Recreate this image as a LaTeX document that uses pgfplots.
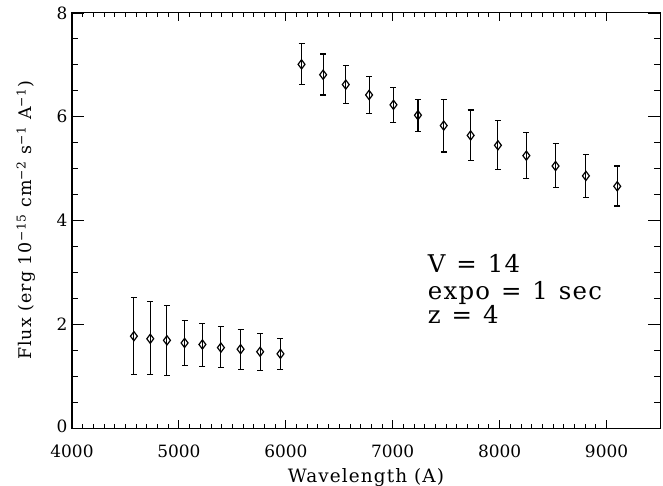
\documentclass[border=0pt]{standalone}
\usepackage{fontspec}
\setmainfont{DejaVu Serif}
\newfontfamily\labfont[LetterSpace=6]{DejaVu Serif}
\newfontfamily\annfont[LetterSpace=5]{DejaVu Serif}
\usepackage{pgfplots}
\pgfplotsset{compat=1.18}
\usepackage{pgfplotstable}

\pgfplotstableread{
x y ep em
4579 1.77 0.75 0.73
4732 1.72 0.71 0.69
4888 1.69 0.67 0.68
5053 1.64 0.44 0.44
5220 1.61 0.41 0.43
5393 1.55 0.40 0.39
5577 1.52 0.38 0.40
5760 1.47 0.36 0.36
5950 1.43 0.29 0.30
}\blue

\pgfplotstableread{
x y ep em
6147 7.01 0.41 0.39
6349 6.81 0.40 0.39
6561 6.62 0.37 0.37
6779 6.42 0.36 0.35
7007 6.23 0.33 0.34
7236 6.03 0.31 0.32
7477 5.83 0.51 0.51
7729 5.64 0.49 0.48
7984 5.45 0.47 0.47
8250 5.25 0.45 0.44
8523 5.05 0.43 0.41
8807 4.86 0.42 0.41
9100 4.66 0.39 0.38
}\red

\begin{document}
\begin{tikzpicture}
\useasboundingbox (-72bp,-58bp) rectangle (591bp,428bp);
\pgfplotsset{
  common/.style={
    scale only axis, width=588bp, height=415bp,
    xmin=4000, xmax=9500, ymin=0, ymax=8,
    axis line style={line width=1bp},
    tick style={line width=0.9bp, black},
    tick align=inside,
    /pgf/number format/assume math mode=true,
    /pgf/number format/set thousands separator={},
    ticklabel style={font=\fontsize{17}{19}\selectfont},
  },
  mystyle/.style={black, only marks, mark=diamond, mark size=4.6bp,
    mark options={line width=1.2bp, fill=white},
    error bars/.cd, y dir=both, y explicit,
    error bar style={line width=1.1bp, black},
    error mark options={rotate=90, mark size=3bp, line width=1.1bp}},
}
% axis with y ticks
\begin{axis}[common,
  xtick=\empty,
  ytick={0,2,4,6,8}, minor y tick num=3,
  yticklabels={\raisebox{4bp}{0},2,4,6,\raisebox{-5bp}{8}},
  major tick length=12bp, minor tick length=6bp,
  yticklabel style={xshift=-1bp},
  ylabel={Flux (erg 10\textsuperscript{−15} cm\textsuperscript{−2} s\textsuperscript{−1} A\textsuperscript{−1})},
  ylabel style={font=\labfont\fontsize{17.5}{19}\selectfont, at={(axis description cs:-0.078,0.5)}, anchor=center},
]
\end{axis}
\begin{axis}[common,
  xtick={4000,5000,...,9000}, minor x tick num=9,
  ytick=\empty,
  major tick length=8bp, minor tick length=4bp,
  xticklabel style={yshift=-13bp},
  xlabel={Wavelength (A)},
  xlabel style={font=\labfont\fontsize{18.5}{20}\selectfont, at={(axis description cs:0.5,-0.1325)}, anchor=base},
]
\addplot[mystyle] table[x=x, y=y, y error plus=ep, y error minus=em] {\blue};
\addplot[mystyle] table[x=x, y=y, y error plus=ep, y error minus=em] {\red};
\node[anchor=base west, inner sep=0, font=\annfont\fontsize{24.5}{26}\selectfont] at (axis cs:7327,2.99) {V\hspace{0.45em}=\hspace{0.45em}14};
\node[anchor=base west, inner sep=0, font=\annfont\fontsize{24.5}{26}\selectfont] at (axis cs:7327,2.48) {expo\hspace{0.45em}=\hspace{0.45em}1\hspace{0.45em}sec};
\node[anchor=base west, inner sep=0, font=\annfont\fontsize{24.5}{26}\selectfont] at (axis cs:7327,2.02) {z\hspace{0.45em}=\hspace{0.45em}4};
\end{axis}
\end{tikzpicture}
\end{document}
